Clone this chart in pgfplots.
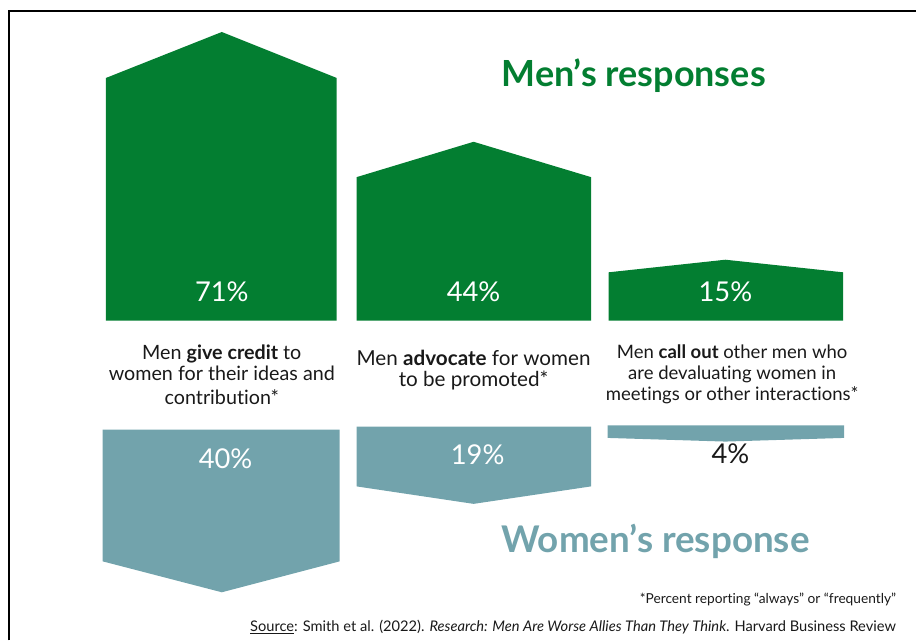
\documentclass[border=0pt]{standalone}
\usepackage{pgfplots}
\pgfplotsset{compat=1.18}
\usepackage{fontspec}
\setmainfont{Lato}[Ligatures={NoCommon}]
\definecolor{mgreen}{RGB}{3,126,49}
\definecolor{wteal}{RGB}{114,163,172}
\definecolor{txt}{RGB}{25,25,25}
\begin{document}
\begin{tikzpicture}
\begin{axis}[
  scale only axis, width=687.75pt, height=480.75pt,
  xmin=-0.881, xmax=2.758, ymin=-78.62, ymax=78.87,
  hide axis, clip=false,
]
\path (rel axis cs:0,0) rectangle (rel axis cs:1,1);
\draw[line width=1.2pt] (axis cs:-0.845,-78.62) -- (axis cs:-0.845,76.17) -- (axis cs:2.758,76.17);

% Men's responses (apex = value in %)
\addplot[fill=mgreen, draw=none] coordinates {(-0.46,0) (-0.46,59.7) (0,71) (0.456,59.7) (0.456,0)};
\addplot[fill=mgreen, draw=none] coordinates {(0.535,0) (0.535,35.3) (1,44) (1.467,35.3) (1.467,0)};
\addplot[fill=mgreen, draw=none] coordinates {(1.536,0) (1.536,11.9) (2,15) (2.468,11.9) (2.468,0)};

% Women's response (downward, apex = value in %)
\addplot[fill=wteal, draw=none, y filter/.expression={-26.78-y}] coordinates {(-0.473,0) (-0.473,32.4) (0,40) (0.468,32.4) (0.468,0)};
\addplot[fill=wteal, draw=none, y filter/.expression={-26.04-y}] coordinates {(0.535,0) (0.535,14.7) (1,19) (1.467,14.7) (1.467,0)};
\addplot[fill=wteal, draw=none, y filter/.expression={-25.72-y}] coordinates {(1.532,0) (1.532,3.1) (2,4) (2.472,3.1) (2.472,0)};

% titles
\node[anchor=base west, text=mgreen, font=\fontsize{27}{31}\selectfont\bfseries, inner sep=0] at (axis cs:1.110,57.57) {Men’s responses};
\node[anchor=base west, text=wteal, font=\fontsize{27.6}{31}\selectfont\bfseries, inner sep=0] at (axis cs:1.110,-56.93) {Women’s response};

% values
\tikzset{val/.style={anchor=base, inner sep=0, font=\fontsize{20.5}{25}\selectfont}}
\node[val, text=white] at (axis cs:0,4.74) {71\%};
\node[val, text=white] at (axis cs:1,4.74) {44\%};
\node[val, text=white] at (axis cs:2,4.74) {15\%};
\node[val, text=white] at (axis cs:0.015,-36.4) {40\%};
\node[val, text=white] at (axis cs:1.016,-35.4) {19\%};
\node[val, text=txt] at (axis cs:2.02,-35.0) {4\%};

% category labels
\tikzset{lab/.style={anchor=base, inner sep=0, text=txt}}
\node[lab, font=\fontsize{14.8}{17}\selectfont] at (axis cs:0,-9.5) {Men \textbf{give credit} to};
\node[lab, font=\fontsize{14.8}{17}\selectfont] at (axis cs:0,-14.8) {women for their ideas and};
\node[lab, font=\fontsize{14.8}{17}\selectfont] at (axis cs:0,-20.5) {contribution*};
\node[lab, font=\fontsize{15.5}{18}\selectfont] at (axis cs:1,-10.9) {Men \textbf{advocate} for women};
\node[lab, font=\fontsize{15.5}{18}\selectfont] at (axis cs:1,-16.2) {to be promoted*};
\node[lab, font=\fontsize{13.9}{16}\selectfont] at (axis cs:2.027,-9.4) {Men \textbf{call out} other men who};
\node[lab, font=\fontsize{13.9}{16}\selectfont] at (axis cs:2.027,-14.55) {are devaluating women in};
\node[lab, font=\fontsize{13.9}{16}\selectfont] at (axis cs:2.027,-19.5) {meetings or other interactions*};

% notes
\node[anchor=base east, inner sep=0, text=txt, font=\fontsize{10.3}{12}\selectfont] at (axis cs:2.679,-69.53) {*Percent reporting “always” or “frequently”};
\node[anchor=base east, inner sep=0, text=txt, font=\fontsize{11}{13}\selectfont] at (axis cs:2.679,-76.4) {\underline{Source}: Smith et al. (2022). \textit{Research: Men Are Worse Allies Than They Think}. Harvard Business Review};
\end{axis}
\end{tikzpicture}
\end{document}
